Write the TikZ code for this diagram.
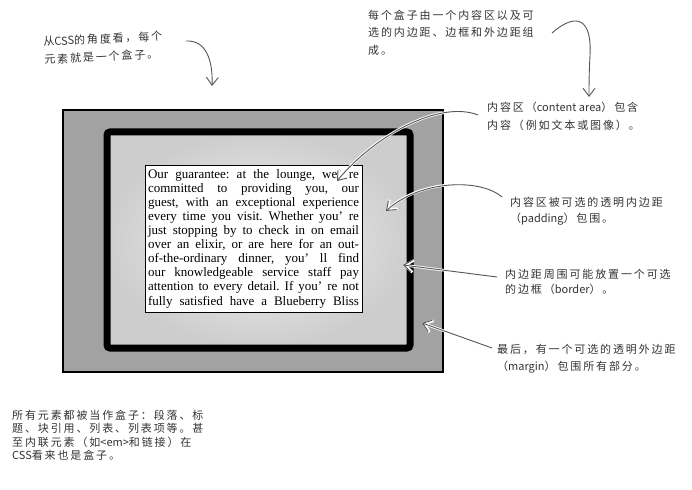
\documentclass[tikz,border=0pt]{standalone}
\usepackage{fontspec}
\setmainfont{Liberation Serif}
\newfontfamily\cjk[LetterSpace=17]{Noto Sans CJK SC}
\newfontfamily\cjklat{Noto Sans CJK SC}
\usetikzlibrary{arrows.meta}

\definecolor{margingray}{HTML}{A2A2A2}
\definecolor{padlight}{HTML}{F2F2F2}
\definecolor{paddark}{HTML}{CDCDCD}
\definecolor{notegray}{HTML}{333333}
\definecolor{arrowgray}{HTML}{555555}

\newcommand{\lat}[1]{{\cjklat #1}}

\begin{document}
\begin{tikzpicture}[x=1pt, y=-1pt,
    note/.style={font=\cjk\fontsize{11}{#1}\selectfont, text=notegray, align=left, anchor=north west, inner sep=0pt},
    note/.default=16,
    pointer/.style={draw=arrowgray, line width=0.9pt, -{Straight Barb[length=8pt,width=12pt]}, preaction={draw=white, line width=2.6pt}}]
    \useasboundingbox (0,0) rectangle (692,489);
    % margin, border and padding
    \path[fill=margingray, draw=black, line width=1.2pt] (63,110) rectangle (443,372);
    \shade[inner color=padlight, outer color=paddark] (107,132) rectangle (410,348);
    \draw[line width=7pt, rounded corners=3pt] (107,132) rectangle (410,348);
    % content area
    \node[draw, fill=white, line width=0.9pt, text width=211pt, inner sep=3pt, minimum height=147pt, align=justify,
        font=\fontsize{13}{14.1}\selectfont] (content) at (253.5,238.5) {\frenchspacing\tolerance=10000\hbadness=10000
        Our guarantee: at the lounge, we’ re\linebreak committed to providing you, our\linebreak
        guest, with an exceptional experience\linebreak every time you visit. Whether you’ re\linebreak
        just stopping by to check in on email\linebreak over an elixir, or are here for an out-\linebreak
        of-the-ordinary dinner, you’ ll find\linebreak our knowledgeable service staff pay\linebreak
        attention to every detail. If you’ re not\linebreak \makebox[\hsize][s]{fully satisfied have a Blueberry Bliss}};
    % notes
    \node[note=18, rotate=3] (view) at (43,36.5) {从\lat{CSS}的角度看，每个\\元素就是一个盒子。};
    \node[note=17.5] (parts) at (368,9.5) {每个盒子由一个内容区以及可\\选的内边距、边框和外边距组\\成。};
    \node[note=18] (area) at (487,101.5) {内容区（\lat{content area}）包含\\内容（例如文本或图像）。};
    \node[note=16] (padding) at (510,196.5) {内容区被可选的透明内边距\\（\lat{padding}）包围。};
    \node[note=14.5] (border) at (505,269.5) {内边距周围可能放置一个可选\\的边框（\lat{border}）。};
    \node[note=17] (margin) at (497,344.5) {最后，有一个可选的透明外边距\\（\lat{margin}）包围所有部分。};
    \node[note=13.5] (all) at (12,409.5) {所有元素都被当作盒子：段落、标\\题、块引用、列表、列表项等。甚\\至内联元素（如\lat{<em>}和链接）在\\\lat{CSS}看来也是盒子。};
    % pointers
    \coordinate (view-tail) at (186,41);
    \coordinate (view-tip) at (212,86);
    \coordinate (parts-tail) at (552,33);
    \coordinate (parts-tip) at (589,97);
    \coordinate (area-tail) at (478,115);
    \coordinate (area-tip) at (337,181);
    \coordinate (padding-tail) at (502,197);
    \coordinate (padding-tip) at (386,211);
    \coordinate (border-tail) at (497,277);
    \coordinate (border-tip) at (403,265);
    \coordinate (margin-tail) at (492,348);
    \coordinate (margin-tip) at (422,323);
    \draw[pointer] (view-tail) .. controls (206,40) and (213,60) .. (view-tip);
    \draw[pointer] (parts-tail) .. controls (576,12) and (592,18) .. (590,55) .. controls (589,75) and (589,85) .. (parts-tip);
    \draw[pointer] (area-tail) .. controls (440,100) and (375,135) .. (area-tip);
    \draw[pointer] (padding-tail) .. controls (480,178) and (420,180) .. (padding-tip);
    \draw[pointer] (border-tail) -- (border-tip);
    \draw[pointer] (margin-tail) -- (margin-tip);
\end{tikzpicture}
\end{document}
